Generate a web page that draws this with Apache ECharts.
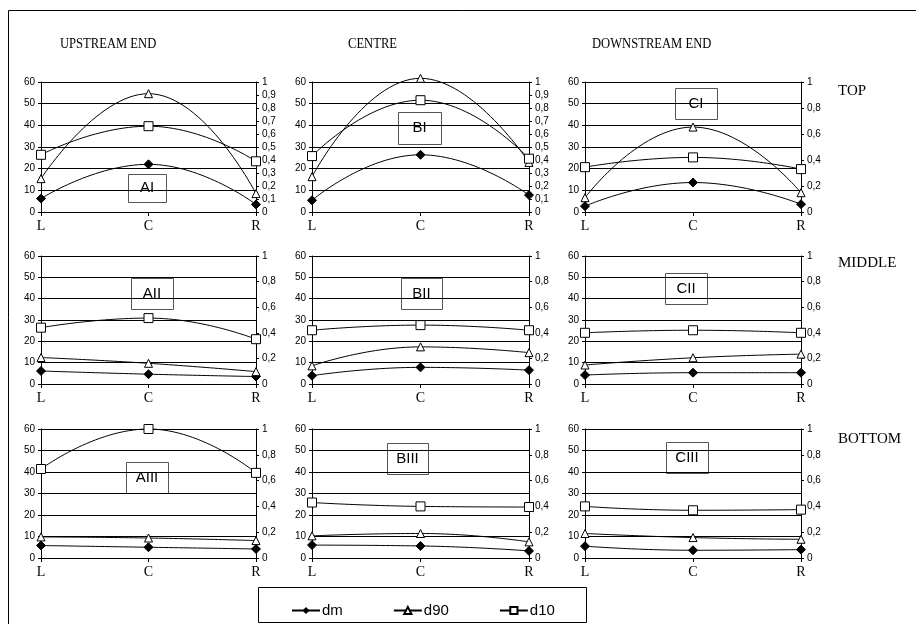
<!DOCTYPE html>
<html>
<head>
<meta charset="utf-8">
<script src="https://cdn.jsdelivr.net/npm/echarts@6/dist/echarts.min.js"></script>
<style>html,body{margin:0;padding:0;background:#fff;}#c{width:916px;height:624px;}</style>
</head>
<body>
<div id="c"></div>
<script>
// ---- data ----
const categories = ['L', 'C', 'R'];
const columnTitles = ['UPSTREAM END', 'CENTRE', 'DOWNSTREAM END'];
const rowTitles = ['TOP', 'MIDDLE', 'BOTTOM'];
const panelNames = ['AI', 'BI', 'CI', 'AII', 'BII', 'CII', 'AIII', 'BIII', 'CIII'];
const seriesNames = ['dm', 'd90', 'd10'];
// dm and d90 on left axis (0-60), d10 on right axis (0-1)
const dm = [
  [6.2, 22.0, 3.5], [5.4, 26.4, 7.8], [2.7, 13.6, 3.6],
  [6.1, 4.6, 3.5], [3.9, 7.8, 6.5], [4.2, 5.3, 5.3],
  [5.8, 5.0, 4.2], [6.0, 5.6, 3.3], [5.5, 3.6, 3.9]
];
const d90 = [
  [15.4, 54.6, 8.5], [16.3, 61.7, 22.9], [6.6, 39.2, 8.9],
  [12.4, 9.7, 5.8], [8.5, 17.4, 14.7], [8.9, 12.3, 14.0],
  [9.8, 9.3, 8.1], [10.3, 11.4, 7.5], [11.4, 9.5, 8.7]
];
const d10 = [
  [0.44, 0.66, 0.39], [0.43, 0.86, 0.41], [0.345, 0.42, 0.33],
  [0.44, 0.515, 0.35], [0.42, 0.46, 0.42], [0.40, 0.42, 0.40],
  [0.69, 1.0, 0.66], [0.43, 0.40, 0.395], [0.40, 0.37, 0.375]
];
const leftAxisMax = 60, leftAxisStep = 10;
const rightAxisMax = 1;
const rightAxisSteps = [0.1, 0.1, 0.2, 0.2, 0.2, 0.2, 0.2, 0.2, 0.2];

// ---- layout ----
const colLeft = [41, 312, 585], colWidth = [215, 217, 216];
const rowTop = [82, 256, 429], rowHeight = [130, 128, 129];
const boxPos = [
  [128, 174, 38, 28], [398, 112, 43, 32], [675, 88, 42, 31],
  [131, 278, 42, 31], [401, 278, 41, 31], [665, 273, 42, 31],
  [126, 462, 42, 31], [387, 443, 41, 31], [666, 442, 42, 31]
];

const sans = 'Liberation Sans, Arial, sans-serif';
const serif = 'Liberation Serif, Times New Roman, serif';

const grids = [], xAxes = [], yAxes = [], series = [], graphics = [];

graphics.push({ type: 'rect', shape: { x: 8.5, y: 10.5, width: 930, height: 640 }, style: { fill: 'none', stroke: '#000', lineWidth: 1 }, z: 0, silent: true });

for (let i = 0; i < 9; i++) {
  const r = Math.floor(i / 3), c = i % 3;
  grids.push({ left: colLeft[c], top: rowTop[r], width: colWidth[c], height: rowHeight[r] });
  xAxes.push({
    type: 'category', gridIndex: i, data: categories, boundaryGap: false,
    axisLine: { lineStyle: { color: '#000', width: 1 } },
    axisTick: { show: true, length: 4, lineStyle: { color: '#000' } },
    axisLabel: { color: '#000', fontFamily: serif, fontSize: 14, margin: 7 },
    splitLine: { show: false }
  });
  yAxes.push({
    type: 'value', gridIndex: i, min: 0, max: leftAxisMax, interval: leftAxisStep, position: 'left',
    axisLine: { show: true, lineStyle: { color: '#000', width: 1 } },
    axisTick: { show: true, length: 3, lineStyle: { color: '#000' } },
    axisLabel: { color: '#000', fontFamily: sans, fontSize: 10, margin: 6 },
    splitLine: { show: true, lineStyle: { color: '#000', width: 1 } }
  });
  yAxes.push({
    type: 'value', gridIndex: i, min: 0, max: rightAxisMax, interval: rightAxisSteps[i], position: 'right',
    axisLine: { show: true, lineStyle: { color: '#000', width: 1 } },
    axisTick: { show: true, length: 3, lineStyle: { color: '#000' } },
    axisLabel: { color: '#000', fontFamily: sans, fontSize: 10, margin: 6,
      formatter: v => String(+v.toFixed(1)).replace('.', ',') },
    splitLine: { show: false }
  });
  const common = { type: 'line', xAxisIndex: i, smooth: 0.5, clip: false,
    lineStyle: { color: '#000', width: 1 }, emphasis: { disabled: true } };
  series.push(Object.assign({}, common, { name: 'dm', yAxisIndex: 2 * i, data: dm[i],
    symbol: 'diamond', symbolSize: 9, itemStyle: { color: '#000', borderColor: '#000' } }));
  series.push(Object.assign({}, common, { name: 'd90', yAxisIndex: 2 * i, data: d90[i],
    symbol: 'triangle', symbolSize: 8, itemStyle: { color: '#fff', borderColor: '#000', borderWidth: 1 } }));
  series.push(Object.assign({}, common, { name: 'd10', yAxisIndex: 2 * i + 1, data: d10[i],
    symbol: 'rect', symbolSize: 9, itemStyle: { color: '#fff', borderColor: '#000', borderWidth: 1 } }));

  const b = boxPos[i];
  graphics.push({ type: 'group', z: 100, children: [
    { type: 'rect', shape: { x: b[0] + 0.5, y: b[1] + 0.5, width: b[2], height: b[3] }, style: { fill: '#fff', stroke: '#555', lineWidth: 1 } },
    { type: 'text', x: b[0] + b[2] / 2, y: b[1] + b[3] / 2, style: { text: panelNames[i], fill: '#000', font: '15px ' + sans, align: 'center', verticalAlign: 'middle' } }
  ] });
}

const titleX = [60, 348, 592];
columnTitles.forEach((t, k) => graphics.push({ type: 'text', x: titleX[k], y: 44, z: 100, scaleX: 0.84,
  style: { text: t, fill: '#000', font: '15px ' + serif, align: 'left', verticalAlign: 'middle' } }));
const rowY = [91, 263, 439];
rowTitles.forEach((t, k) => graphics.push({ type: 'text', x: 838, y: rowY[k], z: 100,
  style: { text: t, fill: '#000', font: '15px ' + serif, align: 'left', verticalAlign: 'middle' } }));

graphics.push({ type: 'rect', shape: { x: 258.5, y: 587.5, width: 328, height: 35 }, style: { fill: 'none', stroke: '#000', lineWidth: 1 }, z: 50 });

const chart = echarts.init(document.getElementById('c'), null, { renderer: 'canvas' });
chart.setOption({
  animation: false,
  backgroundColor: '#fff',
  grid: grids,
  xAxis: xAxes,
  yAxis: yAxes,
  series: series,
  legend: { data: seriesNames, left: 286, top: 598, itemWidth: 28, itemHeight: 9, itemGap: 50,
    textStyle: { fontFamily: sans, fontSize: 15, color: '#000', padding: [0, 0, 0, -3] } },
  graphic: graphics
});
</script>
</body>
</html>
